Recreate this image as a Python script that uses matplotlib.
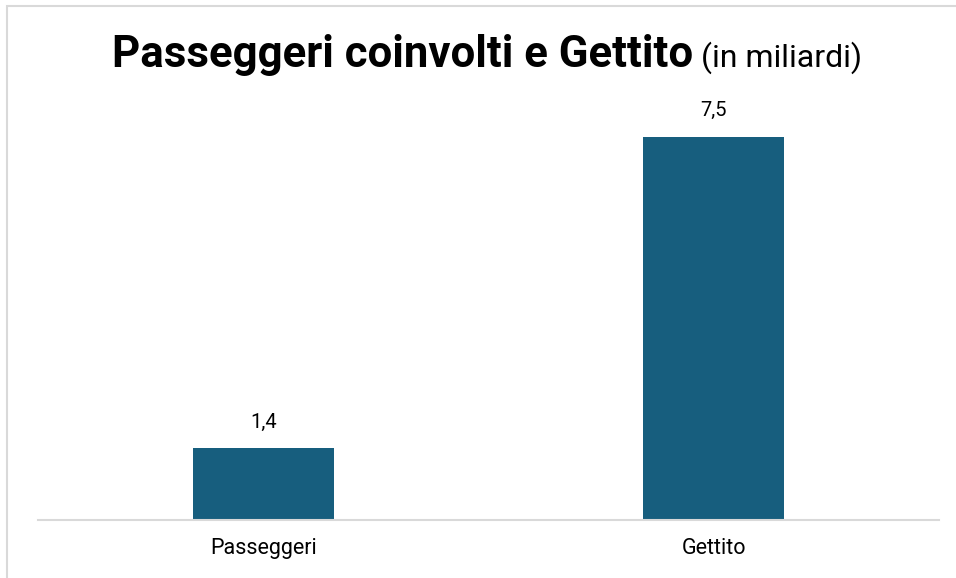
import matplotlib
matplotlib.use("Agg")
import matplotlib.pyplot as plt
from matplotlib.patches import Rectangle

categories = ["Passeggeri", "Gettito"]
values = [1.4, 7.5]
value_labels = ["1,4", "7,5"]

title_bold = "Passeggeri coinvolti e Gettito"
title_regular = " (in miliardi)"

BAR_COLOR = "#175E7E"

fig = plt.figure(figsize=(9.56, 5.78), dpi=100)
fig.patch.set_facecolor("white")

# chart-area border (top/left visible, extends past the image on right/bottom)
fig.patches.append(Rectangle((7 / 956, -0.1), 2.0, (578 - 6) / 578 + 0.1,
                             transform=fig.transFigure, fill=False,
                             edgecolor="#D9D9D9", linewidth=1.5))

ax = fig.add_axes([38 / 956, 58 / 578, 901 / 956, (520 - 111.4) / 578])
x = list(range(len(categories)))
ax.bar(x, values, width=0.313, color=BAR_COLOR, zorder=2)
ax.set_xlim(-0.5, 1.5)
ax.set_ylim(0, 8)
for s in ["top", "right", "left"]:
    ax.spines[s].set_visible(False)
ax.spines["bottom"].set_color("#D9D9D9")
ax.spines["bottom"].set_linewidth(1.5)
ax.set_yticks([])
ax.set_xticks(x)
ax.set_xticklabels(categories, fontsize=15.5, family="Roboto", color="#000000")
ax.tick_params(axis="x", length=0, pad=13)

for xi, v, lab in zip(x, values, value_labels):
    ax.annotate(lab, (xi, v), xytext=(0, 15), textcoords="offset points",
                ha="center", va="baseline", fontsize=14.5, family="Roboto", color="#000000")

# two-part title
fig.canvas.draw()
r = fig.canvas.get_renderer()
tb = fig.text(0, 0, title_bold, fontsize=31.5, fontweight="bold", family="Roboto")
tr = fig.text(0, 0, title_regular, fontsize=23, family="Roboto")
wb = tb.get_window_extent(r).width
wr = tr.get_window_extent(r).width
total = wb + wr
cx = 487
start = cx - total / 2
yb = 1 - 67 / 578
tb.set_position((start / 956, yb))
tb.set_va("baseline")
tr.set_position(((start + wb) / 956, yb))
tr.set_va("baseline")

fig.savefig("out.png", dpi=100, facecolor="white")
